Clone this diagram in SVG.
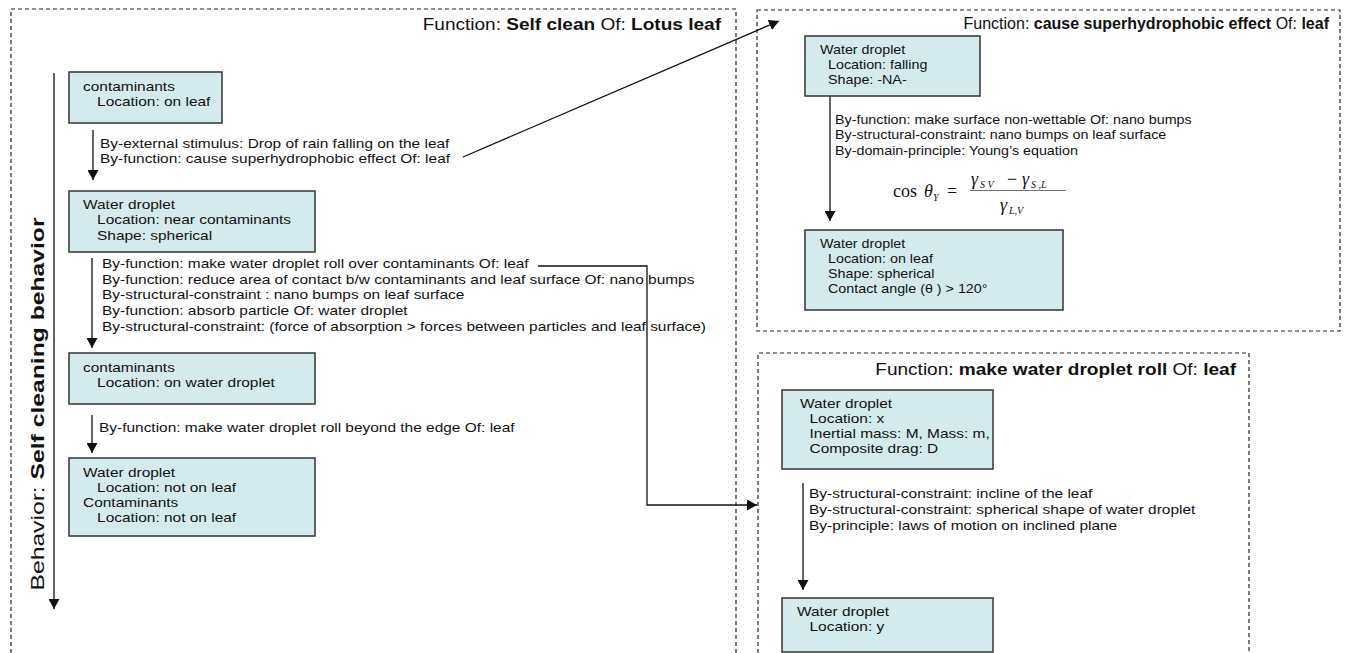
<svg xmlns="http://www.w3.org/2000/svg" width="1346" height="653" viewBox="0 0 1346 653">
<style>
.t{font-family:"Liberation Sans",Arial,sans-serif;font-size:13px;fill:#111}
.h{font-size:16px}
.b{font-weight:bold}
.box{fill:#d5eaed;stroke:#333;stroke-width:1.5}
.frame{fill:none;stroke:#222;stroke-width:1.2;stroke-dasharray:4 3}
.ln{fill:none;stroke:#111;stroke-width:1.3}
.arr{marker-end:url(#ah)}
.m{font-family:"Liberation Serif","Times New Roman",serif;fill:#111}
.i{font-style:italic}
</style>
<defs>
<marker id="ah" markerUnits="userSpaceOnUse" markerWidth="11" markerHeight="11" refX="10" refY="5.5" orient="auto"><path d="M0,0 L10,5.5 L0,11 Z" fill="#111"/></marker>
</defs>

<g id="frames">
<path class="frame" d="M11,653 V9 H736 V653"/>
<path class="frame" d="M757,10 H1340 V331 H757 Z"/>
<path class="frame" d="M758,653 V353 H1249 V653"/>
<text class="t h" transform="translate(721 30) scale(1.19 1)" text-anchor="end">Function: <tspan class="b">Self clean</tspan> Of: <tspan class="b">Lotus leaf</tspan></text>
<text class="t h" transform="translate(1329 29)" text-anchor="end">Function: <tspan class="b">cause superhydrophobic effect</tspan> Of: <tspan class="b">leaf</tspan></text>
<text class="t h" transform="translate(1236 375) scale(1.19 1)" text-anchor="end">Function: <tspan class="b">make water droplet roll</tspan> Of: <tspan class="b">leaf</tspan></text>
<text class="t" style="font-size:19px" transform="translate(44 404) rotate(-90) scale(1.3 1)" text-anchor="middle">Behavior: <tspan class="b">Self cleaning behavior</tspan></text>
</g>

<g id="connectors">
<path class="ln arr" d="M54,73 V609"/>
<path class="ln arr" d="M93,130 V180"/>
<path class="ln arr" d="M92,258 V348"/>
<path class="ln arr" d="M92,415 V453"/>
<path class="ln arr" d="M830,96 V221"/>
<path class="ln arr" d="M803,483 V590"/>
<path class="ln arr" d="M463,157 L779,21"/>
<path class="ln arr" d="M538,266 H647 V505 H757"/>
</g>

<g id="edge-labels">
<text class="t" transform="translate(100 148) scale(1.19 1)"><tspan x="0" y="0">By-external stimulus: Drop of rain falling on the leaf</tspan><tspan x="0" y="15">By-function: cause superhydrophobic effect Of: leaf</tspan></text>
<text class="t" transform="translate(102 268) scale(1.19 1)"><tspan x="0" y="0">By-function: make water droplet roll over contaminants Of: leaf</tspan><tspan x="0" y="15.7">By-function: reduce area of contact b/w contaminants and leaf surface Of: nano bumps</tspan><tspan x="0" y="31.4">By-structural-constraint : nano bumps on leaf surface</tspan><tspan x="0" y="47.1">By-function: absorb particle Of: water droplet</tspan><tspan x="0" y="62.8">By-structural-constraint: (force of absorption &gt; forces between particles and leaf surface)</tspan></text>
<text class="t" transform="translate(99 432) scale(1.19 1)">By-function: make water droplet roll beyond the edge Of: leaf</text>
<text class="t" transform="translate(835 124) scale(1.1 1)"><tspan x="0" y="0">By-function: make surface non-wettable Of: nano bumps</tspan><tspan x="0" y="15.5">By-structural-constraint: nano bumps on leaf surface</tspan><tspan x="0" y="31">By-domain-principle: Young’s equation</tspan></text>
<g id="formula">
<text class="m" x="893" y="197" font-size="18">cos<tspan class="i" x="924">θ</tspan><tspan class="i" x="933" y="201" font-size="10">Y</tspan><tspan x="947" y="197">=</tspan></text>
<text class="m i" x="971" y="185" font-size="18">γ<tspan x="980" y="188" font-size="10">S V</tspan><tspan x="1007" y="185" font-style="normal">−</tspan><tspan x="1022" y="185">γ</tspan><tspan x="1031" y="188" font-size="10">S ,L</tspan></text>
<path d="M970,190.5 H1066" stroke="#777" stroke-width="1"/>
<text class="m i" x="1000" y="211" font-size="18">γ<tspan x="1009" y="214" font-size="10">L,V</tspan></text>
</g>
<text class="t" transform="translate(809 498) scale(1.19 1)"><tspan x="0" y="0">By-structural-constraint: incline of the leaf</tspan><tspan x="0" y="16">By-structural-constraint: spherical shape of water droplet</tspan><tspan x="0" y="32">By-principle: laws of motion on inclined plane</tspan></text>
</g>

<g id="n1">
<rect class="box" x="69" y="72" width="153" height="51"/>
<text class="t" transform="translate(83 91) scale(1.19 1)"><tspan x="0" y="0">contaminants</tspan><tspan x="11.8" y="15">Location: on leaf</tspan></text>
</g>
<g id="n2">
<rect class="box" x="69" y="191" width="246" height="61"/>
<text class="t" transform="translate(83 209) scale(1.19 1)"><tspan x="0" y="0">Water droplet</tspan><tspan x="11.8" y="15.5">Location: near contaminants</tspan><tspan x="11.8" y="31">Shape: spherical</tspan></text>
</g>
<g id="n3">
<rect class="box" x="69" y="353" width="246" height="51"/>
<text class="t" transform="translate(83 372) scale(1.19 1)"><tspan x="0" y="0">contaminants</tspan><tspan x="11.8" y="15">Location: on water droplet</tspan></text>
</g>
<g id="n4">
<rect class="box" x="69" y="458" width="246" height="78"/>
<text class="t" transform="translate(83 477) scale(1.19 1)"><tspan x="0" y="0">Water droplet</tspan><tspan x="11.8" y="15">Location: not on leaf</tspan><tspan x="0" y="30">Contaminants</tspan><tspan x="11.8" y="45">Location: not on leaf</tspan></text>
</g>
<g id="n5">
<rect class="box" x="805" y="36" width="175" height="60"/>
<text class="t" transform="translate(820 54) scale(1.1 1)"><tspan x="0" y="0">Water droplet</tspan><tspan x="7.3" y="15">Location: falling</tspan><tspan x="7.3" y="30">Shape: -NA-</tspan></text>
</g>
<g id="n6">
<rect class="box" x="805" y="230" width="258" height="80"/>
<text class="t" transform="translate(820 248) scale(1.1 1)"><tspan x="0" y="0">Water droplet</tspan><tspan x="7.3" y="15">Location: on leaf</tspan><tspan x="7.3" y="30">Shape: spherical</tspan><tspan x="7.3" y="45.5">Contact angle (θ ) &gt; 120°</tspan></text>
</g>
<g id="n7">
<rect class="box" x="782" y="390" width="211" height="79"/>
<text class="t" transform="translate(800 408) scale(1.19 1)"><tspan x="0" y="0">Water droplet</tspan><tspan x="8" y="15">Location: x</tspan><tspan x="8" y="30">Inertial mass: M, Mass: m,</tspan><tspan x="8" y="45">Composite drag: D</tspan></text>
</g>
<g id="n8">
<rect class="box" x="782" y="598" width="211" height="54"/>
<text class="t" transform="translate(797 616) scale(1.19 1)"><tspan x="0" y="0">Water droplet</tspan><tspan x="10.5" y="15">Location: y</tspan></text>
</g>
</svg>
